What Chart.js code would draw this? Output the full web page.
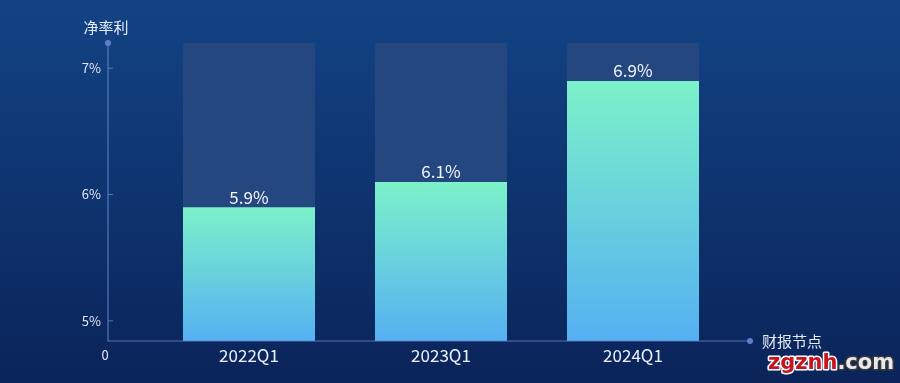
<!DOCTYPE html>
<html>
<head>
<meta charset="utf-8">
<script src="https://cdn.jsdelivr.net/npm/chart.js@4/dist/chart.umd.min.js"></script>
<style>
html,body{margin:0;padding:0;background:#0b275c;}
#wrap{width:900px;height:383px;position:relative;}
</style>
</head>
<body>
<div id="wrap"><canvas id="c" width="900" height="383"></canvas></div>
<script>
const categories = ['2022Q1', '2023Q1', '2024Q1'];
const netMargin = [5.9, 6.1, 6.9];
const backdropValue = [7.2, 7.2, 7.2];
const yTicks = [5, 6, 7];
const yAxisTitle = '净率利';
const xAxisTitle = '财报节点';
const originLabel = '0';
const watermarkA = 'zgznh';
const watermarkB = '.com';

const FONT = '"Noto Sans CJK SC", "Noto Sans", sans-serif';

function barGradient(ctx) {
  const chart = ctx.chart;
  const area = chart.chartArea;
  if (!area || ctx.type !== 'data') return '#66d0e0';
  const y = chart.scales.y;
  const top = y.getPixelForValue(ctx.raw);
  const g = chart.ctx.createLinearGradient(0, top, 0, area.bottom);
  g.addColorStop(0, '#7cf1c9');
  g.addColorStop(1, '#55b0f2');
  return g;
}

const decor = {
  id: 'decor',
  beforeDraw(chart) {
    const c = chart.ctx;
    const g = c.createLinearGradient(0, 0, 0, chart.height);
    g.addColorStop(0, '#134385');
    g.addColorStop(1, '#0a2459');
    c.save();
    c.fillStyle = g;
    c.fillRect(0, 0, chart.width, chart.height);
    c.restore();
  },
  afterDatasetsDraw(chart) {
    const c = chart.ctx;
    const a = chart.chartArea;
    const ys = chart.scales.y;
    const axisX = a.left - 45;
    const axisEnd = a.right + 21;
    c.save();
    c.strokeStyle = 'rgba(96,130,200,0.85)';
    c.lineWidth = 1.2;
    c.beginPath();
    c.moveTo(axisX, a.top);
    c.lineTo(axisX, a.bottom);
    c.lineTo(axisEnd, a.bottom);
    c.stroke();
    c.lineWidth = 1;
    yTicks.forEach(v => {
      const py = ys.getPixelForValue(v);
      c.beginPath();
      c.moveTo(axisX, py);
      c.lineTo(axisX + 5, py);
      c.stroke();
    });
    c.fillStyle = '#5d80c8';
    c.beginPath(); c.arc(axisX, a.top, 3, 0, Math.PI * 2); c.fill();
    c.beginPath(); c.arc(axisEnd, a.bottom, 3, 0, Math.PI * 2); c.fill();
    c.fillStyle = '#e6ecf7';
    c.font = '15px ' + FONT;
    c.textAlign = 'center';
    c.textBaseline = 'middle';
    c.fillText(yAxisTitle, axisX - 2, a.top - 16);
    c.textAlign = 'left';
    c.fillText(xAxisTitle, axisEnd + 12, a.bottom);
    c.font = '13px ' + FONT;
    c.textAlign = 'center';
    c.fillText(originLabel, axisX - 3, a.bottom + 14);
    const meta = chart.getDatasetMeta(1);
    c.font = '17px ' + FONT;
    c.fillStyle = '#f2f5fb';
    c.textBaseline = 'middle';
    meta.data.forEach((bar, i) => {
      c.fillText(netMargin[i].toFixed(1) + '%', bar.x, bar.y - 10);
    });
    c.font = 'bold 21px "DejaVu Sans", sans-serif';
    c.textAlign = 'left';
    c.textBaseline = 'alphabetic';
    c.lineJoin = 'round';
    const wx = 768, wy = 369;
    c.lineWidth = 3;
    c.strokeStyle = '#ffffff';
    c.strokeText(watermarkA, wx, wy);
    c.fillStyle = '#c8141e';
    c.fillText(watermarkA, wx, wy);
    const w = c.measureText(watermarkA).width;
    c.strokeStyle = '#3a3a3a';
    c.strokeText(watermarkB, wx + w, wy);
    c.fillStyle = '#e8e8e8';
    c.fillText(watermarkB, wx + w, wy);
    c.restore();
  }
};

function noPad(s) {
  s.paddingTop = 0; s.paddingBottom = 0; s.paddingLeft = 0; s.paddingRight = 0;
}

new Chart(document.getElementById('c'), {
  type: 'bar',
  data: {
    labels: categories,
    datasets: [
      {
        label: 'backdrop',
        data: backdropValue,
        backgroundColor: '#24477f',
        borderWidth: 0,
        order: 2,
        grouped: false,
        barPercentage: 0.6875,
        categoryPercentage: 1
      },
      {
        label: yAxisTitle,
        data: netMargin,
        backgroundColor: barGradient,
        borderWidth: 0,
        order: 1,
        grouped: false,
        barPercentage: 0.6875,
        categoryPercentage: 1
      }
    ]
  },
  options: {
    responsive: false,
    animation: false,
    events: [],
    layout: { padding: { top: 43, right: 171, bottom: 0, left: 0 } },
    plugins: { legend: { display: false }, tooltip: { enabled: false } },
    scales: {
      x: {
        grid: { display: false, drawTicks: false },
        border: { display: false },
        ticks: { color: '#eef2fa', font: { family: FONT, size: 17 }, padding: 4 },
        afterFit(s) { s.height = 42; noPad(s); }
      },
      y: {
        min: 4.84,
        max: 7.2,
        grid: { display: false, drawTicks: false },
        border: { display: false },
        afterBuildTicks(s) { s.ticks = yTicks.map(v => ({ value: v })); },
        ticks: {
          color: '#dfe6f4',
          font: { family: FONT, size: 13 },
          padding: 52,
          callback: v => v + '%'
        },
        afterFit(s) { s.width = 153; noPad(s); }
      }
    }
  },
  plugins: [decor]
});
</script>
</body>
</html>
